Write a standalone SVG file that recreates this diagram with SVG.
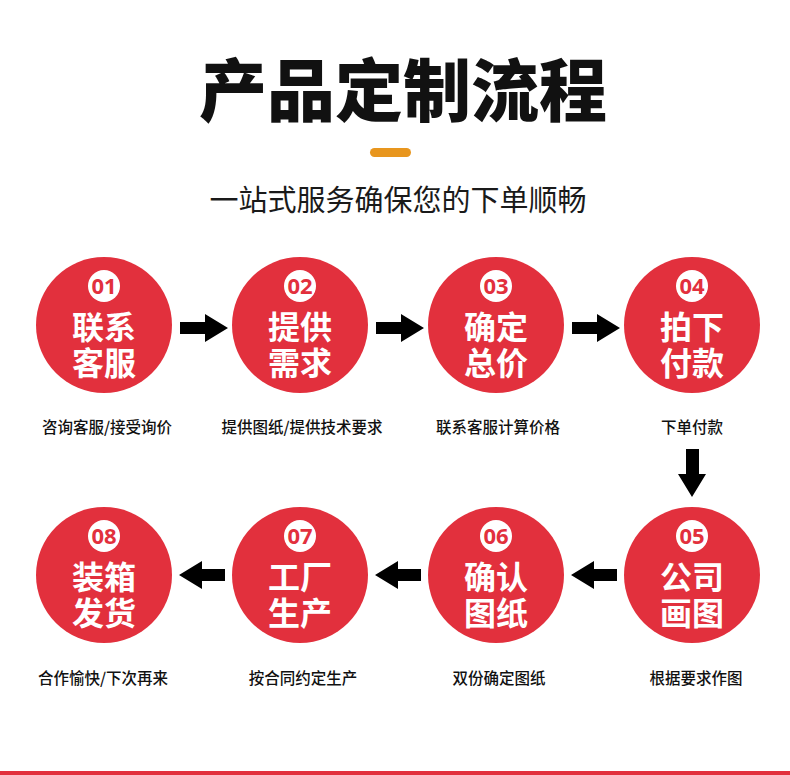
<svg xmlns="http://www.w3.org/2000/svg" width="790" height="775" viewBox="0 0 790 775">
<style>
.cjk{font-family:"Noto Sans CJK SC","Noto Sans",sans-serif}
.title{font-size:68px;font-weight:900;fill:#111}
.sub{font-size:29px;font-weight:400;fill:#1a1a1a}
.step{fill:#E2303D}
.badge{fill:#fff}
.num{font-family:"Noto Sans","Liberation Sans",sans-serif;font-size:22px;font-weight:700;fill:#E2303D}
.main{font-size:32px;font-weight:700;fill:#fff}
.lbl{font-size:15.5px;font-weight:500;fill:#111}
.arr{fill:#000}
</style>
<rect width="790" height="775" fill="#fff"/>
<g id="header">
<text class="cjk title" x="403" y="116" text-anchor="middle">产品定制流程</text>
<rect x="370" y="148" width="41" height="9" rx="4.5" fill="#E8961E"/>
<text class="cjk sub" x="398" y="211" text-anchor="middle">一站式服务确保您的下单顺畅</text>
</g>
<g id="n1"><circle class="step" cx="104" cy="325" r="68"/><circle class="badge" cx="104" cy="286" r="16"/><text class="num" x="104" y="294" text-anchor="middle">01</text><text class="cjk main" x="104" y="339" text-anchor="middle">联系</text><text class="cjk main" x="104" y="375" text-anchor="middle">客服</text><text class="cjk lbl" x="107" y="433" text-anchor="middle">咨询客服/接受询价</text></g>
<g id="n2"><circle class="step" cx="300" cy="325" r="68"/><circle class="badge" cx="300" cy="286" r="16"/><text class="num" x="300" y="294" text-anchor="middle">02</text><text class="cjk main" x="300" y="339" text-anchor="middle">提供</text><text class="cjk main" x="300" y="375" text-anchor="middle">需求</text><text class="cjk lbl" x="302" y="433" text-anchor="middle">提供图纸/提供技术要求</text></g>
<g id="n3"><circle class="step" cx="496" cy="325" r="68"/><circle class="badge" cx="496" cy="286" r="16"/><text class="num" x="496" y="294" text-anchor="middle">03</text><text class="cjk main" x="496" y="339" text-anchor="middle">确定</text><text class="cjk main" x="496" y="375" text-anchor="middle">总价</text><text class="cjk lbl" x="498" y="433" text-anchor="middle">联系客服计算价格</text></g>
<g id="n4"><circle class="step" cx="692" cy="325" r="68"/><circle class="badge" cx="692" cy="286" r="16"/><text class="num" x="692" y="294" text-anchor="middle">04</text><text class="cjk main" x="692" y="339" text-anchor="middle">拍下</text><text class="cjk main" x="692" y="375" text-anchor="middle">付款</text><text class="cjk lbl" x="692" y="433" text-anchor="middle">下单付款</text></g>
<g id="n5"><circle class="step" cx="692" cy="575" r="68"/><circle class="badge" cx="692" cy="536" r="16"/><text class="num" x="692" y="544" text-anchor="middle">05</text><text class="cjk main" x="692" y="589" text-anchor="middle">公司</text><text class="cjk main" x="692" y="625" text-anchor="middle">画图</text><text class="cjk lbl" x="696" y="684" text-anchor="middle">根据要求作图</text></g>
<g id="n6"><circle class="step" cx="496" cy="575" r="68"/><circle class="badge" cx="496" cy="536" r="16"/><text class="num" x="496" y="544" text-anchor="middle">06</text><text class="cjk main" x="496" y="589" text-anchor="middle">确认</text><text class="cjk main" x="496" y="625" text-anchor="middle">图纸</text><text class="cjk lbl" x="499" y="684" text-anchor="middle">双份确定图纸</text></g>
<g id="n7"><circle class="step" cx="300" cy="575" r="68"/><circle class="badge" cx="300" cy="536" r="16"/><text class="num" x="300" y="544" text-anchor="middle">07</text><text class="cjk main" x="300" y="589" text-anchor="middle">工厂</text><text class="cjk main" x="300" y="625" text-anchor="middle">生产</text><text class="cjk lbl" x="303" y="684" text-anchor="middle">按合同约定生产</text></g>
<g id="n8"><circle class="step" cx="104" cy="575" r="68"/><circle class="badge" cx="104" cy="536" r="16"/><text class="num" x="104" y="544" text-anchor="middle">08</text><text class="cjk main" x="104" y="589" text-anchor="middle">装箱</text><text class="cjk main" x="104" y="625" text-anchor="middle">发货</text><text class="cjk lbl" x="103" y="684" text-anchor="middle">合作愉快/下次再来</text></g>
<g id="connectors">
<polygon class="arr" points="180,322 205,322 205,314 228,328 205,342 205,334 180,334"/>
<polygon class="arr" points="376,322 401,322 401,314 424,328 401,342 401,334 376,334"/>
<polygon class="arr" points="572,322 597,322 597,314 620,328 597,342 597,334 572,334"/>
<polygon class="arr" points="686,449 699,449 699,474 706,474 692,497 678,474 686,474"/>
<polygon class="arr" points="617,569 594,569 594,561 571,575 594,589 594,581 617,581"/>
<polygon class="arr" points="421,569 398,569 398,561 375,575 398,589 398,581 421,581"/>
<polygon class="arr" points="225,569 202,569 202,561 179,575 202,589 202,581 225,581"/>
</g>
<rect x="0" y="771" width="790" height="4" fill="#E2303D"/>
</svg>
